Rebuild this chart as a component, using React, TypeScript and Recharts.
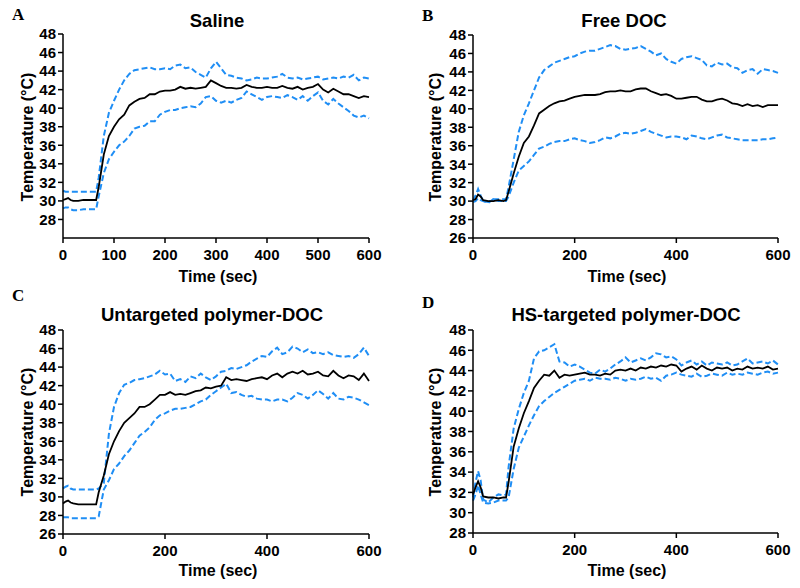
import { LineChart, Line, XAxis, YAxis } from 'recharts';

// sample times (sec)
const TIME = [
  0, 5, 10, 15, 20, 30, 40, 50, 60, 65,
  70, 80, 90, 100, 110, 120, 130, 140, 150, 160,
  170, 180, 190, 200, 210, 220, 230, 240, 250, 260,
  270, 280, 290, 300, 310, 320, 330, 340, 350, 360,
  370, 380, 390, 400, 410, 420, 430, 440, 450, 460,
  470, 480, 490, 500, 510, 520, 530, 540, 550, 560,
  570, 580, 590, 600,
];

// A - Saline
const SALINE_MEAN = [
  30.1, 30.2, 30.3, 30.1, 30.0, 30.0, 30.1, 30.1, 30.1, 30.1,
  31.5, 35.0, 37.0, 38.0, 38.8, 39.3, 40.3, 40.7, 41.0, 41.1,
  41.5, 41.5, 41.8, 41.9, 41.9, 42.0, 42.3, 42.1, 42.2, 42.1,
  42.2, 42.3, 43.0, 42.7, 42.4, 42.2, 42.2, 42.1, 42.2, 42.5,
  42.3, 42.2, 42.2, 42.3, 42.2, 42.2, 42.4, 42.2, 42.1, 42.3,
  42.0, 42.2, 42.3, 42.6, 42.0, 41.7, 42.1, 41.8, 41.5, 41.5,
  41.3, 41.1, 41.3, 41.2,
];
const SALINE_UPPER = [
  31.1, 31.0, 31.0, 31.0, 31.0, 31.0, 31.0, 31.0, 31.0, 31.0,
  32.5, 37.0, 39.5, 40.8, 42.0, 43.0, 43.7, 44.1, 44.2, 44.3,
  44.4, 44.2, 44.2, 44.3, 44.2, 44.6, 44.7, 44.3, 44.4, 43.9,
  43.6, 43.3, 44.3, 45.0, 44.3, 43.6, 43.5, 43.3, 43.2, 43.0,
  43.1, 43.3, 43.2, 43.2, 43.3, 43.4, 43.7, 43.3, 43.2, 43.3,
  43.1, 43.2, 43.3, 43.4, 43.1, 43.2, 43.3, 43.2, 43.4, 43.3,
  43.6, 43.0, 43.3, 43.2,
];
const SALINE_LOWER = [
  29.2, 29.3, 29.3, 29.1, 29.0, 29.0, 29.1, 29.1, 29.1, 29.1,
  30.5, 33.0, 34.5, 35.3, 36.0, 36.4, 37.0, 37.8, 38.0, 38.1,
  38.6, 38.6, 39.3, 39.6, 39.8, 39.8, 40.0, 40.1, 40.2, 40.1,
  40.5, 41.2, 41.3, 40.8, 40.6, 40.8, 40.6, 40.9, 41.1, 41.8,
  41.5, 41.2, 40.9, 41.2, 41.3, 41.2, 41.1, 41.4, 41.2, 40.9,
  41.3, 40.8, 41.3, 41.7, 40.8, 40.4, 41.0, 40.5, 40.1, 39.7,
  39.2, 39.0, 39.2, 38.9,
];

// B - Free DOC
const FREE_MEAN = [
  30.1, 30.2, 30.7, 30.5, 30.1, 30.0, 30.0, 30.1, 30.0, 30.1,
  31.0, 33.0, 34.8, 36.3, 37.0, 38.2, 39.5, 39.9, 40.3, 40.6,
  40.8, 40.9, 41.1, 41.3, 41.4, 41.5, 41.5, 41.5, 41.6, 41.8,
  41.9, 41.9, 42.0, 41.9, 41.9, 42.1, 42.2, 42.2, 41.9, 41.7,
  41.5, 41.6, 41.4, 41.1, 41.1, 41.2, 41.3, 41.3, 41.0, 40.8,
  40.8, 41.0, 41.1, 40.9, 40.6, 40.5, 40.3, 40.5, 40.3, 40.4,
  40.2, 40.4, 40.4, 40.4,
];
const FREE_UPPER = [
  30.1, 30.6, 31.3, 30.6, 30.0, 29.9, 30.2, 30.2, 30.2, 30.2,
  31.5, 34.5, 37.5, 39.3, 40.6, 42.0, 43.4, 44.2, 44.6, 45.0,
  45.2, 45.4, 45.6, 45.7, 46.0, 46.2, 46.3, 46.3, 46.5, 46.7,
  46.9, 46.8, 46.5, 46.4, 46.5, 46.6, 46.8, 46.5, 46.2, 45.8,
  46.0, 45.4, 45.1, 44.9, 45.4, 45.6, 45.7, 45.5, 45.3, 44.7,
  44.6, 45.0, 44.8, 44.9, 44.5, 44.4, 43.9, 44.2, 44.3, 43.8,
  44.3, 44.2, 44.1, 43.9,
];
const FREE_LOWER = [
  29.9, 30.0, 30.3, 30.1, 30.0, 29.8, 30.2, 30.0, 30.0, 30.0,
  30.5, 32.0, 33.3, 33.8, 34.3, 35.0, 35.7, 35.9, 36.2, 36.4,
  36.5, 36.5, 36.7, 36.8, 36.6, 36.5, 36.3, 36.4, 36.6, 36.9,
  36.8, 37.0, 37.3, 37.4, 37.3, 37.4, 37.6, 37.8, 37.5, 37.3,
  37.1, 36.9, 37.0, 37.0, 36.9, 36.7, 37.1, 37.0, 36.8, 36.7,
  36.9, 37.1, 37.2, 36.9, 36.8, 36.7, 36.6, 36.6, 36.6, 36.6,
  36.7, 36.7, 36.8, 36.9,
];

// C - Untargeted polymer-DOC
const UNTARGETED_MEAN = [
  29.3, 29.5, 29.6, 29.4, 29.3, 29.2, 29.2, 29.2, 29.2, 29.2,
  30.5, 32.3, 34.6, 36.0, 37.1, 38.0, 38.5, 39.0, 39.7, 39.7,
  40.0, 40.5, 41.0, 41.0, 41.3, 41.0, 41.1, 41.0, 41.2, 41.4,
  41.5, 41.8, 41.7, 41.9, 42.0, 42.9, 42.6, 42.7, 42.6, 42.5,
  42.7, 42.8, 42.9, 42.7, 43.1, 43.3, 42.9, 43.3, 43.5, 43.3,
  43.6, 43.2, 43.3, 43.5, 43.1, 43.0, 43.6, 43.1, 42.8, 43.1,
  43.0, 42.6, 43.3, 42.5,
];
const UNTARGETED_UPPER = [
  30.9, 31.1, 31.2, 30.9, 30.8, 30.8, 30.8, 30.8, 30.8, 30.8,
  30.9, 31.5, 36.8, 39.7, 41.2, 42.1, 42.3, 42.6, 42.7, 42.8,
  43.0, 43.2, 43.6, 43.2, 43.3, 42.5, 42.7, 42.4, 43.0, 42.8,
  43.3, 42.9, 42.6, 43.0, 43.5, 43.6, 43.9, 43.8, 44.0, 44.2,
  44.6, 44.9, 45.2, 45.1, 45.7, 46.1, 45.4, 45.6, 46.2, 46.0,
  45.6, 45.9, 45.5, 45.6, 45.4, 45.6, 45.3, 45.2, 45.1, 45.2,
  45.0, 45.4, 46.1, 45.2,
];
const UNTARGETED_LOWER = [
  27.8, 27.8, 27.8, 27.7, 27.7, 27.7, 27.7, 27.7, 27.7, 27.7,
  27.9, 30.8, 31.8, 33.0, 33.6, 34.4, 35.0, 35.8, 36.6, 37.0,
  37.5, 38.3, 38.8, 39.0, 39.3, 39.5, 39.5, 39.6, 39.7, 40.0,
  40.3, 40.5, 41.0, 41.4, 41.8, 42.2, 41.2, 41.3, 41.0, 40.8,
  40.9, 40.6, 40.5, 40.5, 40.3, 40.5, 40.5, 40.3, 40.7, 41.2,
  41.0, 40.6, 41.0, 41.5, 41.1, 40.6, 41.2, 40.6, 40.5, 40.8,
  40.7, 40.5, 40.2, 39.9,
];

// D - HS-targeted polymer-DOC
const TARGETED_MEAN = [
  31.8, 32.5, 33.1, 32.5, 31.6, 31.5, 31.5, 31.4, 31.5, 31.5,
  33.0, 36.5, 38.3, 39.8, 41.0, 42.3, 43.0, 43.6, 43.5, 44.0,
  43.3, 43.6, 43.5, 43.6, 43.7, 43.8, 43.6, 43.6, 43.5, 43.7,
  43.6, 44.0, 44.1, 44.0, 44.2, 44.0, 44.3, 44.2, 44.4, 44.3,
  44.5, 44.4, 44.6, 44.5, 43.9, 44.2, 44.4, 44.1, 44.5, 44.2,
  44.0, 44.3, 44.2, 44.3, 44.0, 44.2, 44.1, 44.4, 44.2, 44.3,
  44.2, 44.4, 44.1, 44.2,
];
const TARGETED_UPPER = [
  31.5, 33.0, 34.1, 33.2, 31.3, 31.0, 31.5, 31.8, 31.7, 31.8,
  34.5, 38.3, 40.2, 41.8, 43.0, 45.2, 45.9, 46.0, 46.3, 46.6,
  44.9, 44.8, 44.4, 44.6, 44.4, 44.1, 43.8, 43.7, 44.1, 43.9,
  44.2, 44.6, 44.9, 45.3, 44.8, 45.0, 45.2, 45.0, 45.3, 45.7,
  45.6, 45.3, 45.4, 45.1, 44.5, 44.8, 45.0, 44.6, 44.9, 44.5,
  44.8, 44.7, 44.6, 44.8, 44.5, 44.6, 44.9, 45.2, 44.7, 44.8,
  44.9, 44.7, 45.0, 44.6,
];
const TARGETED_LOWER = [
  31.2, 31.8, 32.7, 31.8, 31.0, 30.9, 31.0, 31.2, 31.2, 31.2,
  31.5, 34.3, 36.4, 37.5, 38.6, 39.6, 40.5, 41.0, 41.4, 41.8,
  42.1, 42.4, 42.7, 43.0, 43.1, 43.2, 43.0, 43.3, 43.2, 43.2,
  43.1, 43.3, 43.2, 43.0, 43.2, 43.1, 43.2, 43.4, 43.2, 43.3,
  43.0, 43.5, 43.6, 43.8, 43.6, 43.5, 43.4, 43.7, 43.4, 43.5,
  43.7, 43.6, 43.5, 43.8, 43.6, 43.7, 43.6, 43.8, 43.7, 43.6,
  43.8, 43.9, 43.7, 43.8,
];

const Y_TICKS_26 = [26, 28, 30, 32, 34, 36, 38, 40, 42, 44, 46, 48];
const Y_TICKS_28 = [28, 30, 32, 34, 36, 38, 40, 42, 44, 46, 48];
const X_TICKS_100 = [0, 100, 200, 300, 400, 500, 600];
const X_TICKS_200 = [0, 200, 400, 600];

const BLUE = '#1f8ef5';
const SANS = 'Arial, "Liberation Sans", sans-serif';
const AXIS = { stroke: '#000', strokeWidth: 1.5 };
const TICK = { fill: '#000', fontSize: 15, fontWeight: 'bold', fontFamily: SANS };

interface PanelProps {
  left: number;
  top: number;
  mean: number[];
  upper: number[];
  lower: number[];
  yDomain: [number, number];
  yTicks: number[];
  xTicks: number[];
  margin: { top: number; right: number; bottom: number; left: number };
  yAxisWidth: number;
}

function Panel({ left, top, mean, upper, lower, yDomain, yTicks, xTicks, margin, yAxisWidth }: PanelProps) {
  const data = TIME.map((t, i) => ({ t, mean: mean[i], upper: upper[i], lower: lower[i] }));
  return (
    <div style={{ position: 'absolute', left, top }}>
      <LineChart width={400} height={294} data={data} margin={margin}>
        <XAxis
          dataKey="t"
          type="number"
          domain={[0, 600]}
          ticks={xTicks}
          interval={0}
          height={40}
          tickSize={5}
          tickMargin={6}
          axisLine={AXIS}
          tickLine={AXIS}
          tick={TICK}
        />
        <YAxis
          type="number"
          domain={yDomain}
          ticks={yTicks}
          interval={0}
          width={yAxisWidth}
          tickSize={5}
          axisLine={AXIS}
          tickLine={AXIS}
          tick={TICK}
        />
        <Line type="linear" dataKey="upper" stroke={BLUE} strokeWidth={2} strokeDasharray="6 3" dot={false} isAnimationActive={false} />
        <Line type="linear" dataKey="lower" stroke={BLUE} strokeWidth={2} strokeDasharray="6 3" dot={false} isAnimationActive={false} />
        <Line type="linear" dataKey="mean" stroke="#000" strokeWidth={1.8} dot={false} isAnimationActive={false} />
      </LineChart>
    </div>
  );
}

const titleStyle = { fontFamily: SANS, fontWeight: 'bold' as const, fontSize: 18.5, fill: '#000' };
const labelStyle = { fontFamily: SANS, fontWeight: 'bold' as const, fontSize: 16, fill: '#000' };
const letterStyle = { fontFamily: '"Times New Roman", "Liberation Serif", serif', fontWeight: 'bold' as const, fontSize: 17, fill: '#000' };

function YLabel({ x, y }: { x: number; y: number }) {
  return (
    <text x={x} y={y} dy="0.35em" textAnchor="middle" transform={`rotate(-90, ${x}, ${y})`} style={labelStyle}>
      Temperature (°C)
    </text>
  );
}

export default function App() {
  return (
    <div style={{ position: 'absolute', left: 0, top: 0, width: 800, height: 588, background: '#fff' }}>
      <Panel left={0} top={0} mean={SALINE_MEAN} upper={SALINE_UPPER} lower={SALINE_LOWER}
        yDomain={[26, 48]} yTicks={Y_TICKS_28} xTicks={X_TICKS_100}
        margin={{ top: 34, right: 31, bottom: 16, left: 0 }} yAxisWidth={63} />
      <Panel left={400} top={0} mean={FREE_MEAN} upper={FREE_UPPER} lower={FREE_LOWER}
        yDomain={[26, 48]} yTicks={Y_TICKS_26} xTicks={X_TICKS_200}
        margin={{ top: 35, right: 22, bottom: 16, left: 0 }} yAxisWidth={73} />
      <Panel left={0} top={294} mean={UNTARGETED_MEAN} upper={UNTARGETED_UPPER} lower={UNTARGETED_LOWER}
        yDomain={[26, 48]} yTicks={Y_TICKS_26} xTicks={X_TICKS_200}
        margin={{ top: 36, right: 31, bottom: 14, left: 0 }} yAxisWidth={63} />
      <Panel left={400} top={294} mean={TARGETED_MEAN} upper={TARGETED_UPPER} lower={TARGETED_LOWER}
        yDomain={[28, 48]} yTicks={Y_TICKS_28} xTicks={X_TICKS_200}
        margin={{ top: 36, right: 22, bottom: 15, left: 0 }} yAxisWidth={73} />
      <svg width={800} height={588} style={{ position: 'absolute', left: 0, top: 0, pointerEvents: 'none' }}>
        <text x={12} y={20} style={letterStyle}>A</text>
        <text x={422} y={20.5} style={letterStyle}>B</text>
        <text x={12} y={301} style={letterStyle}>C</text>
        <text x={422} y={308} style={letterStyle}>D</text>

        <text x={217} y={26.5} textAnchor="middle" style={titleStyle}>Saline</text>
        <text x={624} y={26.5} textAnchor="middle" style={titleStyle}>Free DOC</text>
        <text x={212} y={320.5} textAnchor="middle" style={titleStyle}>Untargeted polymer-DOC</text>
        <text x={626} y={320.5} textAnchor="middle" style={titleStyle}>HS-targeted polymer-DOC</text>

        <YLabel x={27} y={137} />
        <YLabel x={435} y={137} />
        <YLabel x={27} y={432} />
        <YLabel x={435} y={432} />

        <text x={218} y={282} textAnchor="middle" style={labelStyle}>Time (sec)</text>
        <text x={627} y={282} textAnchor="middle" style={labelStyle}>Time (sec)</text>
        <text x={218} y={576} textAnchor="middle" style={labelStyle}>Time (sec)</text>
        <text x={627} y={576} textAnchor="middle" style={labelStyle}>Time (sec)</text>
      </svg>
    </div>
  );
}
